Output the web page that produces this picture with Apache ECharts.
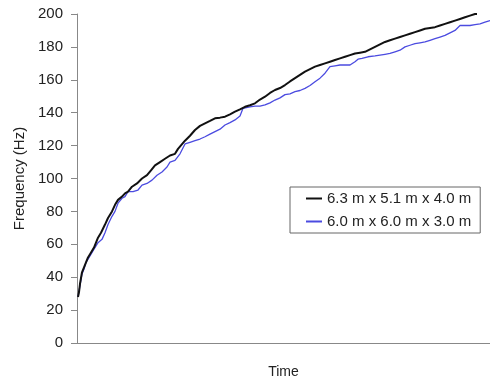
<!DOCTYPE html>
<html>
<head>
<meta charset="utf-8">
<script src="https://cdn.jsdelivr.net/npm/echarts@6/dist/echarts.min.js"></script>
<style>html,body{margin:0;padding:0;background:#fff}#c{width:490px;height:377px}</style>
</head>
<body>
<div id="c"></div>
<script>
const yTicks = [0, 20, 40, 60, 80, 100, 120, 140, 160, 180, 200];
const seriesNames = ["6.3 m x 5.1 m x 4.0 m", "6.0 m x 6.0 m x 3.0 m"];
const blackData = [[1,28],[2,31],[3,36],[5,43],[7,44],[9,49],[11,52],[13,54],[17,58],[21,64],[24,67],[28,72],[31,76],[35,80],[38,84],[41,87],[45,89],[48,91],[51,92],[55,95],[60,97],[65,100],[70,102],[74,105],[78,108],[83,110],[88,112],[93,114],[98,115],[101,118],[108,123],[113,126],[118,129.5],[123,132],[128,133.5],[133,135],[138,136.6],[143,137],[148,137.6],[153,139],[158,140.6],[163,142],[168,143.6],[173,144.5],[178,145.7],[183,148],[188,149.7],[193,152],[198,153.8],[203,155],[208,156.8],[213,159],[218,161],[223,163],[228,165],[233,166.5],[238,168],[243,169],[248,170],[253,171],[258,172],[263,173],[268,174],[273,175],[278,176],[283,176.5],[288,177],[293,178.5],[298,180],[303,181.5],[308,183],[313,184],[318,185],[323,186],[328,187],[333,188],[338,189],[343,190],[348,191],[353,191.5],[358,192],[363,193],[368,194],[373,195],[378,196],[383,197],[388,198],[393,199],[398,200],[400,200]];
const blueData = [[1,28],[3,35],[5,42],[7,45],[9,49],[11,51],[13,53],[17,57],[21,61],[25,63],[28,67],[31,72],[35,77],[38,80],[41,85],[45,88],[48,89],[51,92],[56,92],[61,93],[65,96],[70,97],[75,99],[80,102],[85,104],[90,107],[93,110],[98,111],[103,115],[108,121],[113,122],[118,123],[123,124],[128,125.4],[133,127],[138,128.5],[143,130],[148,132.5],[153,134],[158,135.6],[163,138],[166,142.7],[173,143.6],[178,144],[183,144],[188,144.7],[193,146],[198,147.7],[203,149],[208,151],[213,151.5],[218,152.8],[223,153.5],[228,154.8],[233,156.5],[238,158.8],[243,161],[248,164],[253,168],[258,168.5],[263,169],[268,169],[273,169],[278,171],[281,172.5],[285,173],[291,174],[298,174.5],[303,175],[308,175.5],[313,176],[318,177],[323,178],[328,180],[333,181],[338,182],[343,182.5],[348,183],[353,184],[358,185],[363,186],[368,187],[373,188.5],[378,190],[383,193],[388,193],[393,193],[398,193.5],[403,194],[408,195],[413,196]];
const timeMax = 413;

const chart = echarts.init(document.getElementById('c'), null, {renderer: 'canvas'});
const font = 'Liberation Sans, Arial, sans-serif';
chart.setOption({
  animation: false,
  backgroundColor: '#fff',
  grid: {left: 77, right: 0, top: 14, bottom: 34, containLabel: false, outerBoundsMode: 'none'},
  xAxis: {
    type: 'value', min: 0, max: timeMax,
    name: 'Time', nameLocation: 'middle', nameGap: 22,
    nameTextStyle: {fontFamily: font, fontSize: 14, color: '#222', verticalAlign: 'top'},
    axisLine: {show: true, onZero: false, lineStyle: {color: '#888', width: 1}},
    axisTick: {show: false}, axisLabel: {show: false}, splitLine: {show: false}
  },
  yAxis: {
    type: 'value', min: yTicks[0], max: yTicks[yTicks.length - 1], interval: 20,
    name: 'Frequency (Hz)', nameLocation: 'middle', nameGap: 44,
    nameTextStyle: {fontFamily: font, fontSize: 15, color: '#222'},
    axisLine: {show: true, lineStyle: {color: '#888', width: 1}},
    axisTick: {show: true, length: 6, lineStyle: {color: '#888'}},
    axisLabel: {fontFamily: font, fontSize: 15, color: '#222', margin: 14},
    splitLine: {show: false}
  },
  legend: {
    orient: 'vertical', left: 290, top: 187,
    padding: [4, 9, 4, 16], itemGap: 8, itemWidth: 16, itemHeight: 2,
    icon: 'rect',
    borderColor: '#666', borderWidth: 1, backgroundColor: '#fff',
    textStyle: {fontFamily: font, fontSize: 15, color: '#222'},
    data: seriesNames
  },
  series: [
    {name: seriesNames[0], type: 'line', data: blackData, symbol: 'none', lineStyle: {color: '#111', width: 2}, itemStyle: {color: '#111'}, z: 3},
    {name: seriesNames[1], type: 'line', data: blueData, symbol: 'none', lineStyle: {color: '#4b4be0', width: 1.3}, itemStyle: {color: '#4b4be0'}, z: 2}
  ]
});
</script>
</body>
</html>
